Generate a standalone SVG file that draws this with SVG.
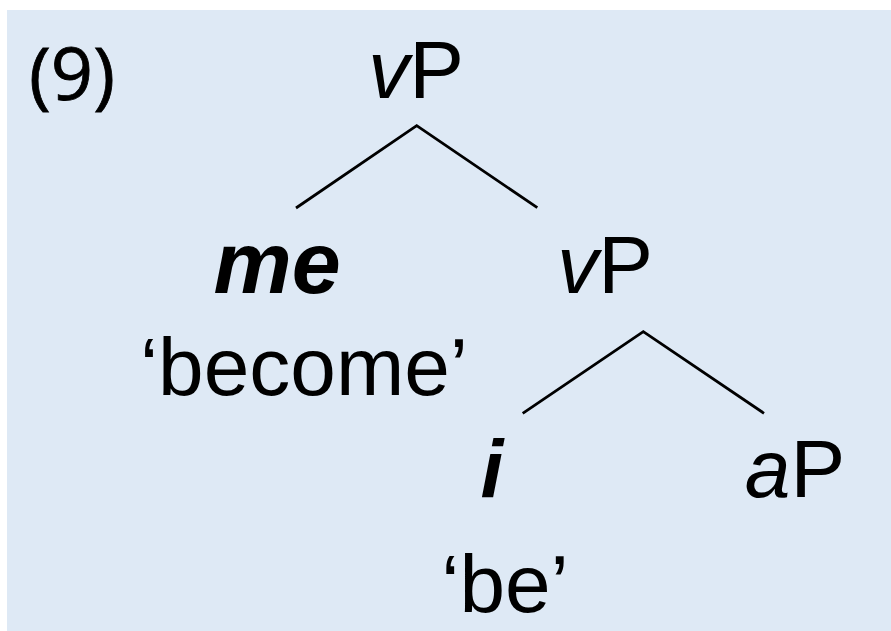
<svg xmlns="http://www.w3.org/2000/svg" width="891" height="631" viewBox="0 0 891 631">
<style>
.t{font-family:"Liberation Sans",Arial,sans-serif;font-size:82px;fill:#000;text-anchor:middle}
.bi{font-weight:bold;font-style:italic}
.it{font-style:italic}
.num{font-family:"Open Sans","Noto Sans",sans-serif;font-size:74px;fill:#000;stroke:#000;stroke-width:0.8}
.edge{stroke:#000;stroke-width:2.8;fill:none;stroke-linecap:butt}
</style>
<rect x="0" y="0" width="891" height="631" fill="#ffffff"/>
<rect x="7" y="10" width="884" height="621" fill="#dee9f5"/>
<text class="num" x="29" y="100">(9)</text>
<g id="connectors">
<polyline class="edge" points="296,208 416.7,125.7 537.3,207.7"/>
<polyline class="edge" points="522.7,413.3 643.3,331.7 764,413.3"/>
</g>
<g id="vP-top"><text class="t" x="416" y="98"><tspan class="it">v</tspan>P</text></g>
<g id="me"><text class="t bi" x="277" y="293" style="font-size:88px">me</text><text class="t" x="304" y="395">‘become’</text></g>
<g id="vP-mid"><text class="t" x="605" y="293"><tspan class="it">v</tspan>P</text></g>
<g id="i"><text class="t bi" x="492" y="497">i</text><text class="t" x="505" y="612">‘be’</text></g>
<g id="aP"><text class="t" x="795" y="497"><tspan class="it">a</tspan>P</text></g>
</svg>
